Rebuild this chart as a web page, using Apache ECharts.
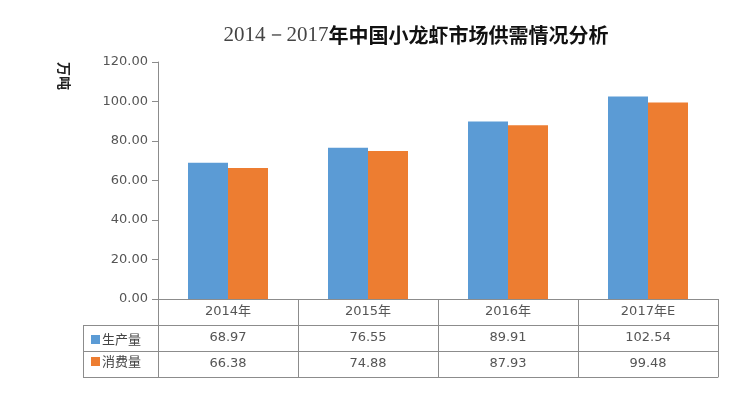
<!DOCTYPE html>
<html><head><meta charset="utf-8">
<script src="https://cdn.jsdelivr.net/npm/echarts@6/dist/echarts.min.js"></script>
<style>html,body{margin:0;padding:0;background:#fff}#c{width:737px;height:395px}</style>
</head><body><div id="c"></div>
<script>
var categories = ['2014年', '2015年', '2016年', '2017年E'];
var seriesNames = ['生产量', '消费量'];
var production = [68.97, 76.55, 89.91, 102.54];
var consumption = [66.38, 74.88, 87.93, 99.48];
var yTicks = [0, 20, 40, 60, 80, 100, 120];

var GL = 158, GR = 19, GT = 62, GB = 96, ROW = 26, TL = 83;
var chart = echarts.init(document.getElementById('c'));
var font = '"Noto Sans CJK SC", "Noto Sans", sans-serif';
var numFont = '"DejaVu Sans", "Noto Sans CJK SC", sans-serif';
var lineColor = '#8c8c8c';
var txt = '#555';
function valAxis(vals, off, showLine) {
  return {
    type: 'category', position: 'bottom', offset: off, data: vals.map(function (v) { return v.toFixed(2); }),
    axisLine: { show: showLine, lineStyle: { color: lineColor, width: 1 } },
    axisTick: { show: false },
    axisLabel: { show: vals.length > 0, color: txt, fontSize: 13, fontFamily: numFont, margin: 6, interval: 0 }
  };
}
var option = {
  animation: false,
  backgroundColor: '#fff',
  title: {
    text: '{a|2014－2017}{b|年中国小龙虾市场供需情况分析}',
    left: 411, top: 20, textAlign: 'center',
    textStyle: { rich: {
      a: { fontFamily: '"Liberation Serif", "DejaVu Serif", serif', fontSize: 21, fontWeight: 'normal', color: '#444' },
      b: { fontFamily: font, fontSize: 20, fontWeight: 'bold', color: '#111' }
    } }
  },
  legend: {
    data: seriesNames, orient: 'vertical', left: TL + 3, top: 395 - GB + ROW + 3,
    itemWidth: 9, itemHeight: 9, itemGap: 9, icon: 'rect', selectedMode: false,
    textStyle: { fontSize: 13, color: '#444', fontFamily: font, padding: [0, 0, 0, -3] }
  },
  grid: { left: GL, right: GR, top: GT, bottom: GB },
  xAxis: [
    {
      type: 'category', data: categories,
      axisLine: { lineStyle: { color: lineColor } },
      axisTick: { show: true, length: ROW * 3, lineStyle: { color: lineColor } },
      axisLabel: { color: txt, fontSize: 13, fontFamily: numFont, margin: 6 }
    },
    valAxis(production, ROW, true),
    valAxis(consumption, ROW * 2, true),
    { type: 'category', position: 'bottom', offset: ROW * 3, data: categories,
      axisLine: { show: true, lineStyle: { color: lineColor } }, axisTick: { show: false }, axisLabel: { show: false } }
  ],
  yAxis: {
    type: 'value', min: yTicks[0], max: yTicks[yTicks.length - 1], interval: yTicks[1] - yTicks[0],
    axisLine: { show: true, lineStyle: { color: lineColor } },
    axisTick: { show: true, length: 6, lineStyle: { color: lineColor } },
    splitLine: { show: false },
    axisLabel: { color: txt, fontSize: 13, fontFamily: numFont, margin: 10, formatter: function (v) { return v.toFixed(2); } }
  },
  series: [
    { name: seriesNames[0], type: 'bar', data: production, barWidth: 40, barGap: '0%', itemStyle: { color: '#5B9BD5' } },
    { name: seriesNames[1], type: 'bar', data: consumption, barWidth: 40, itemStyle: { color: '#ED7D31' } }
  ],
  graphic: (function () {
    var yb = 395 - GB, s = { stroke: lineColor, lineWidth: 1 };
    var g = [];
    [1, 2, 3].forEach(function (i) {
      g.push({ type: 'line', shape: { x1: TL, y1: yb + ROW * i + 0.5, x2: GL, y2: yb + ROW * i + 0.5 }, style: s });
    });
    g.push({ type: 'line', shape: { x1: TL + 0.5, y1: yb + ROW, x2: TL + 0.5, y2: yb + ROW * 3 }, style: s });
    g.push({ type: 'line', shape: { x1: GL + 0.5, y1: yb, x2: GL + 0.5, y2: yb + ROW * 3 }, style: s });
    g.push({ type: 'text', x: 71, y: 62, rotation: -Math.PI / 2,
      style: { text: '万吨', fontSize: 14, fontWeight: 'bold', fontFamily: font, fill: '#222' } });
    return g;
  })()
};
chart.setOption(option);
</script></body></html>
